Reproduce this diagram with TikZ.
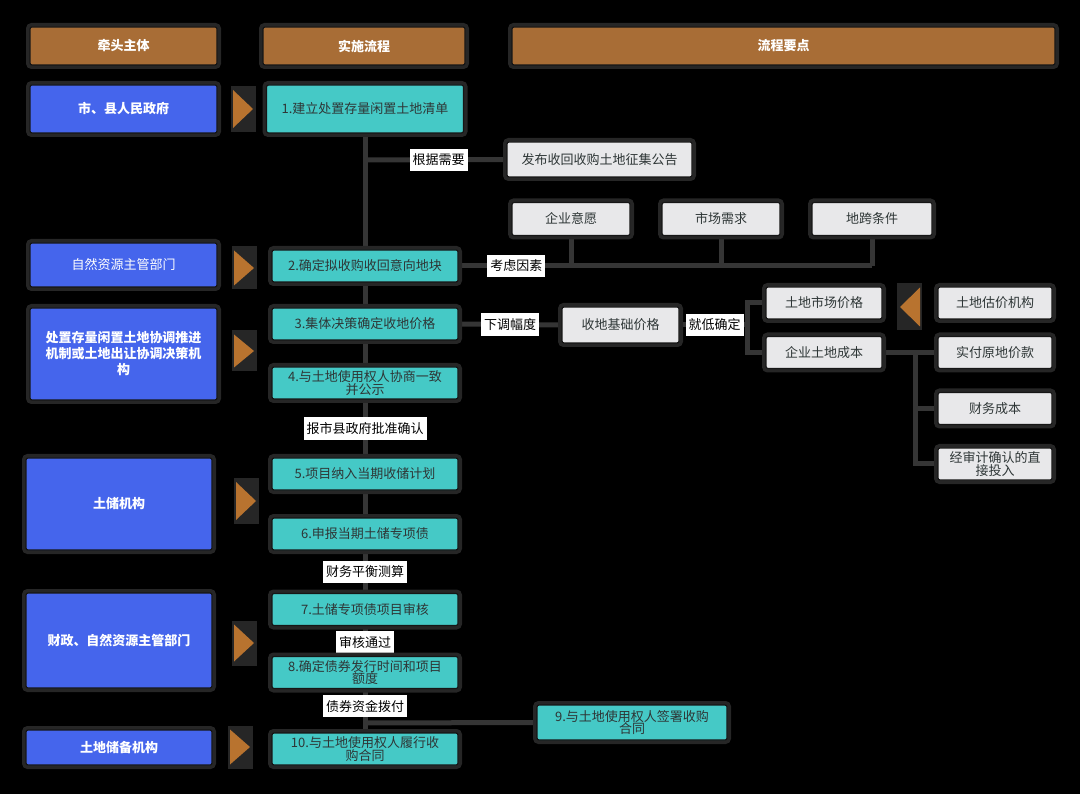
\documentclass[tikz,border=0pt]{standalone}
\usepackage{fontspec}
\setmainfont{Noto Sans CJK SC}
\usetikzlibrary{backgrounds}
\pgfdeclarelayer{backmost}
\pgfsetlayers{backmost,background,main}
\definecolor{hdr}{HTML}{A86D36}
\definecolor{bluebox}{HTML}{4565EC}
\definecolor{tealbox}{HTML}{45C9C6}
\definecolor{greybox}{HTML}{E8E8EA}
\definecolor{linec}{HTML}{353535}
\definecolor{halo}{HTML}{262626}
\definecolor{bord}{HTML}{161616}
\definecolor{darktext}{HTML}{2E3636}
\definecolor{arrowc}{HTML}{B8732F}
\newcommand{\triR}[3]{%
  \fill[halo] ({#1-12},{#2-#3/2-4}) rectangle ({#1+13},{#2+#3/2+4});
  \fill[arrowc] ({#1-10},{#2-#3/2}) -- ({#1+10},{#2}) -- ({#1-10},{#2+#3/2}) -- cycle;}
\newcommand{\triL}[3]{%
  \fill[halo] ({#1-13},{#2-#3/2-4}) rectangle ({#1+12},{#2+#3/2+4});
  \fill[arrowc] ({#1+10},{#2-#3/2}) -- ({#1-10},{#2}) -- ({#1+10},{#2+#3/2}) -- cycle;}
\begin{document}
\begin{tikzpicture}[x=1pt,y=-1pt,
  boxbase/.style={rounded corners=2pt, draw=bord, line width=1.2pt,
    preaction={draw=halo, line width=8pt}, inner sep=2pt, align=center,
    font=\fontsize{13}{14.5}\selectfont},
  hdrbox/.style={boxbase, fill=hdr, text=white, font=\fontsize{13}{15}\selectfont\bfseries,
    minimum height=38pt},
  bluebx/.style={boxbase, fill=bluebox, text=white, font=\fontsize{13}{16}\selectfont\bfseries,
    minimum width=187pt},
  tealbx/.style={boxbase, fill=tealbox, text=darktext, minimum width=186pt, minimum height=32pt},
  greybx/.style={boxbase, fill=greybox, text=darktext, minimum height=33pt},
  lab/.style={fill=white, text=black, inner xsep=3pt, inner ysep=5pt,
    font=\fontsize{13}{15}\selectfont},
  conn/.style={draw=linec, line width=5pt}
]
\begin{pgfonlayer}{backmost}
\fill[black] (0,0) rectangle (1080,794);
\end{pgfonlayer}
\useasboundingbox (0,0) rectangle (1080,794);

% headers
\node[hdrbox, minimum width=187pt] (h1) at (123.5,46) {牵头主体};
\node[hdrbox, minimum width=202pt] (h2) at (364,46) {实施流程};
\node[hdrbox, minimum width=543pt] (h3) at (783.5,46) {流程要点};

% lead bodies
\node[bluebx, minimum height=48pt] (b1) at (123.5,109) {市、县人民政府};
\node[bluebx, minimum height=44pt, font=\fontsize{13}{16}\selectfont] (b2) at (123.5,265) {自然资源主管部门};
\node[bluebx, minimum height=92pt] (b3) at (123.5,354) {处置存量闲置土地协调推进\\机制或土地出让协调决策机\\构};
\node[bluebx, minimum width=186pt, minimum height=92pt] (b4) at (119,504) {土储机构};
\node[bluebx, minimum width=186pt, minimum height=95pt] (b5) at (119,640.5) {财政、自然资源主管部门};
\node[bluebx, minimum width=186pt, minimum height=35pt] (b6) at (119,747.5) {土地储备机构};

% process steps
\node[tealbx, minimum width=197pt, minimum height=48pt] (t1) at (365,109) {1.建立处置存量闲置土地清单};
\node[tealbx] (t2) at (365,266) {2.确定拟收购收回意向地块};
\node[tealbx] (t3) at (365,324) {3.集体决策确定收地价格};
\node[tealbx] (t4) at (365,383) {4.与土地使用权人协商一致\\[-2pt]并公示};
\node[tealbx] (t5) at (365,474) {5.项目纳入当期收储计划};
\node[tealbx] (t6) at (365,534) {6.申报当期土储专项债};
\node[tealbx] (t7) at (365,609.5) {7.土储专项债项目审核};
\node[tealbx] (t8) at (365,672.5) {8.确定债券发行时间和项目\\[-2pt]额度};
\node[tealbx] (t10) at (365,749) {10.与土地使用权人履行收\\[-2pt]购合同};
\node[tealbx, minimum width=190pt, minimum height=35pt] (t9) at (632,722.5) {9.与土地使用权人签署收购\\[-2pt]合同};

% key points
\node[greybx, minimum width=185pt, minimum height=35pt] (g0) at (599.5,159.5) {发布收回收购土地征集公告};
\node[greybx, minimum width=118pt] (q1) at (571,219) {企业意愿};
\node[greybx, minimum width=118pt] (q2) at (721,219) {市场需求};
\node[greybx, minimum width=120pt] (q3) at (872,219) {地跨条件};
\node[greybx, minimum width=117pt, minimum height=36pt] (bp) at (620.5,325) {收地基础价格};
\node[greybx, minimum width=116pt, minimum height=32pt] (m1) at (824,303) {土地市场价格};
\node[greybx, minimum width=116pt, minimum height=32pt] (m2) at (824,352.5) {企业土地成本};
\node[greybx, minimum width=114pt, minimum height=32pt] (r1) at (995,303) {土地估价机构};
\node[greybx, minimum width=114pt, minimum height=32pt] (r2) at (995,352.5) {实付原地价款};
\node[greybx, minimum width=114pt, minimum height=32pt] (r3) at (995,408.5) {财务成本};
\node[greybx, minimum width=114pt, minimum height=32pt] (r4) at (995,464) {经审计确认的直\\[-2pt]接投入};

% orange pointers
\triR{243}{109}{38}
\triR{244}{268}{35}
\triR{244}{351}{33}
\triR{246}{501}{38}
\triR{244}{643}{37}
\triR{240}{747}{35}
\triL{910}{307}{39}

\coordinate (j1) at (365,160);
\coordinate (bk) at (747,325);
\coordinate (vj) at (915,352.5);
\coordinate (j9) at (365,723);

\begin{scope}[on background layer]
\path[conn] (t1.south) -- (t2.north);
\path[conn] (t2.south) -- (t3.north);
\path[conn] (t3.south) -- (t4.north);
\path[conn] (t4.south) -- node[lab] {报市县政府批准确认} (t5.north);
\path[conn] (t5.south) -- (t6.north);
\path[conn] (t6.south) -- node[lab] {财务平衡测算} (t7.north);
\path[conn] (t7.south) -- node[lab, pos=0.55] {审核通过} (t8.north);
\path[conn] (t8.south) -- node[lab, pos=0.4] {债券资金拨付} (t10.north);
\path[conn] (j1) -- node[lab, pos=0.52] {根据需要} (g0.west);
\path[conn] (q1.south) -- (q1.south |- t2.east);
\path[conn] (q2.south) -- (q2.south |- t2.east);
\path[conn] (q3.south) -- (q3.south |- t2.east);
\path[conn] (t2.east) -- node[lab, pos=0.14] {考虑因素} (t2.east -| q3.south);
\path[conn] (t3.east) -- node[lab] {下调幅度} (bp.west);
\path[conn] (bp.east) -- node[lab, pos=0.52] {就低确定} (bk);
\path[conn] (m1.west) -- (m1.west -| bk) -- (m2.west -| bk) -- (m2.west);
\path[conn] (m2.east) -- (r2.west);
\path[conn] (vj) -- (vj |- r4.west) -- (r4.west);
\path[conn] (vj |- r3.west) -- (r3.west);
\path[conn] (j9) -- (t9.west);
\end{scope}
\end{tikzpicture}
\end{document}
